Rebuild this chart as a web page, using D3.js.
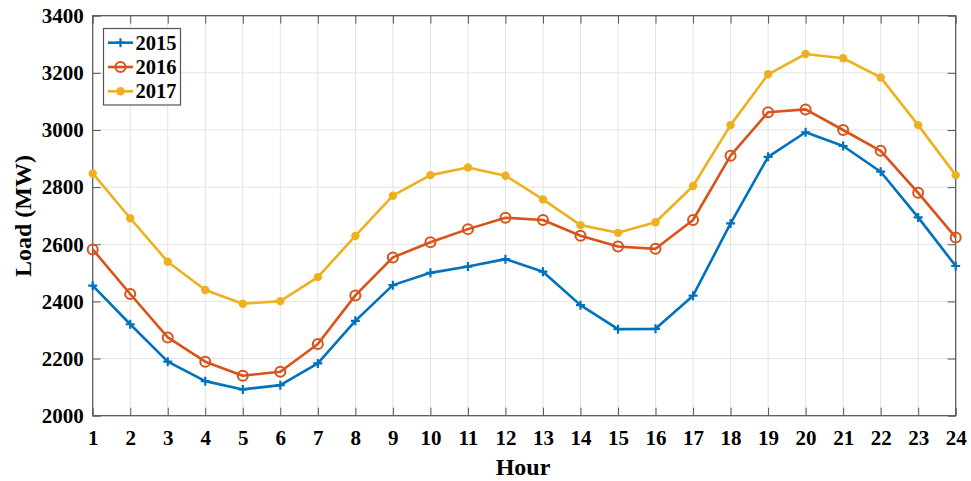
<!DOCTYPE html>
<html>
<head>
<meta charset="utf-8">
<script src="https://cdn.jsdelivr.net/npm/d3@7"></script>
<style>
  html, body { margin: 0; padding: 0; background: #fff; }
  svg { display: block; }
  text { font-family: "Liberation Serif", "Times New Roman", serif; font-weight: bold; fill: #000; }
</style>
</head>
<body>
<svg id="chart" width="971" height="481"></svg>
<script>
// Hourly load profile (MW) for three years
const hours = d3.range(1, 25);
const load2015 = [2455, 2320, 2189, 2121, 2092, 2107, 2183, 2332, 2457, 2500, 2522, 2548,
                  2504, 2387, 2303, 2304, 2420, 2673, 2906, 2992, 2944, 2854, 2694, 2524];
const load2016 = [2582, 2426, 2274, 2189, 2140, 2154, 2251, 2421, 2554, 2607, 2653, 2693,
                  2685, 2630, 2592, 2584, 2685, 2910, 3062, 3072, 3000, 2927, 2780, 2624];
const load2017 = [2848, 2691, 2539, 2440, 2392, 2401, 2485, 2629, 2770, 2842, 2869, 2840,
                  2757, 2667, 2640, 2677, 2804, 3017, 3195, 3266, 3251, 3184, 3017, 2842];
const yTicks = [2000, 2200, 2400, 2600, 2800, 3000, 3200, 3400];

const series = [
  { name: "2015", values: load2015, color: "#0072BD", marker: "plus" },
  { name: "2016", values: load2016, color: "#D95319", marker: "circle" },
  { name: "2017", values: load2017, color: "#EDB120", marker: "dot" }
];

const svg = d3.select("#chart");
const plotL = 92.7, plotR = 955.7, plotT = 15.7, plotB = 415.7;

const x = d3.scaleLinear().domain([1, 24]).range([plotL, plotR]);
const y = d3.scaleLinear().domain([2000, 3400]).range([plotB, plotT]);

// grid
const grid = svg.append("g").attr("stroke", "#e3e3e3").attr("stroke-width", 1);
grid.selectAll("line.v").data(hours).join("line").attr("class", "v")
  .attr("x1", d => x(d)).attr("x2", d => x(d)).attr("y1", plotT).attr("y2", plotB);
grid.selectAll("line.h").data(yTicks).join("line").attr("class", "h")
  .attr("x1", plotL).attr("x2", plotR).attr("y1", d => y(d)).attr("y2", d => y(d));

// axes with inward ticks on all four sides
const tickLen = 8;
const axisColor = "#555";
function styleAxis(g) {
  g.select(".domain").remove();
  g.selectAll(".tick line").attr("stroke", axisColor).attr("stroke-width", 1);
}
svg.append("g").attr("transform", `translate(0,${plotB})`)
  .call(d3.axisBottom(x).tickValues(hours).tickFormat(d3.format("d")).tickSizeInner(-tickLen).tickSizeOuter(0).tickPadding(14))
  .call(styleAxis)
  .call(g => g.selectAll("text").attr("font-size", 21).attr("fill", "#000"));
svg.append("g").attr("transform", `translate(0,${plotT})`)
  .call(d3.axisTop(x).tickValues(hours).tickFormat("").tickSizeInner(-tickLen).tickSizeOuter(0))
  .call(styleAxis);
svg.append("g").attr("transform", `translate(${plotL},0)`)
  .call(d3.axisLeft(y).tickValues(yTicks).tickFormat(d3.format("d")).tickSizeInner(-tickLen).tickSizeOuter(0).tickPadding(9))
  .call(styleAxis)
  .call(g => g.selectAll("text").attr("font-size", 21).attr("fill", "#000"));
svg.append("g").attr("transform", `translate(${plotR},0)`)
  .call(d3.axisRight(y).tickValues(yTicks).tickFormat("").tickSizeInner(-tickLen).tickSizeOuter(0))
  .call(styleAxis);

svg.selectAll("g.tick text").style("font-family", '"Liberation Serif", "Times New Roman", serif').style("font-weight", "bold");

// box
svg.append("rect").attr("x", plotL).attr("y", plotT).attr("width", plotR - plotL).attr("height", plotB - plotT)
  .attr("fill", "none").attr("stroke", axisColor).attr("stroke-width", 1.2);

// markers
function drawMarker(g, type, color) {
  if (type === "plus") {
    g.append("path").attr("d", "M-4.5,0H4.5M0,-4.5V4.5").attr("stroke", color).attr("stroke-width", 2.2).attr("fill", "none");
  } else if (type === "circle") {
    g.append("circle").attr("r", 5).attr("fill", "none").attr("stroke", color).attr("stroke-width", 2);
  } else {
    g.append("circle").attr("r", 4.2).attr("fill", color).attr("stroke", "none");
  }
}

const line = d3.line().x((d, i) => x(hours[i])).y(d => y(d));
series.forEach(s => {
  const g = svg.append("g");
  g.append("path").datum(s.values).attr("d", line)
    .attr("fill", "none").attr("stroke", s.color).attr("stroke-width", 2.6).attr("stroke-linejoin", "round");
  s.values.forEach((v, i) => {
    const m = g.append("g").attr("transform", `translate(${x(hours[i])},${y(v)})`);
    drawMarker(m, s.marker, s.color);
  });
});

// legend
const lg = svg.append("g");
lg.append("rect").attr("x", 103.5).attr("y", 28.5).attr("width", 77).attr("height", 76.5)
  .attr("fill", "#fff").attr("stroke", axisColor).attr("stroke-width", 1.2);
series.forEach((s, i) => {
  const cy = 42.7 + i * 24.3;
  const row = lg.append("g");
  row.append("line").attr("x1", 108).attr("x2", 133).attr("y1", cy).attr("y2", cy)
    .attr("stroke", s.color).attr("stroke-width", 2.6);
  drawMarker(row.append("g").attr("transform", `translate(120.5,${cy})`), s.marker, s.color);
  row.append("text").attr("x", 135.5).attr("y", cy).attr("dy", "0.35em")
    .attr("font-size", 20.5).text(s.name);
});

// axis titles
svg.append("text").attr("x", 523).attr("y", 475).attr("text-anchor", "middle")
  .attr("font-size", 24).text("Hour");
svg.append("text").attr("transform", "translate(31,216) rotate(-90)").attr("text-anchor", "middle")
  .attr("font-size", 24).text("Load (MW)");
</script>
</body>
</html>
